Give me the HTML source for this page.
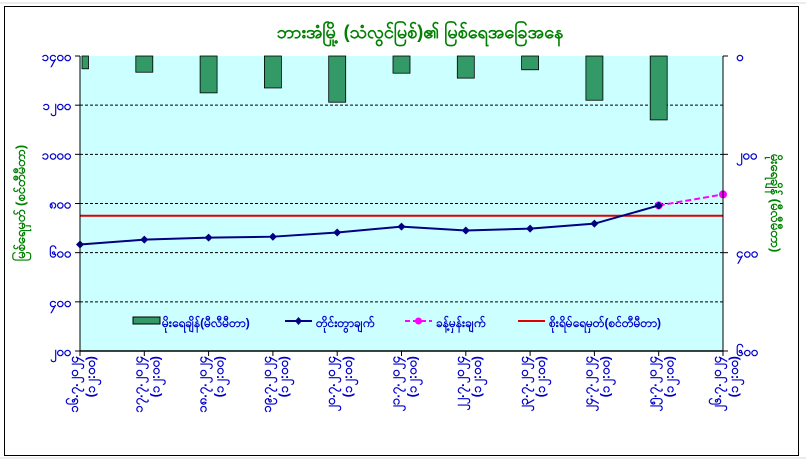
<!DOCTYPE html>
<html><head><meta charset="utf-8">
<style>
body{margin:0;width:806px;height:459px;background:#fff;overflow:hidden;font-family:"Liberation Sans",sans-serif}
</style></head>
<body>
<svg width="806" height="459" xmlns="http://www.w3.org/2000/svg">
<g stroke="#d9d9d9" stroke-width="1">
<line x1="0" y1="3" x2="806" y2="3"/><line x1="0" y1="458" x2="806" y2="458"/>
</g>
<rect x="4.5" y="6.5" width="794" height="449" fill="#fff" stroke="#000"/>
<text x="420" y="38" text-anchor="middle" font-size="18" font-weight="bold" fill="#008000">ဘားအံမြို့ (သံလွင်မြစ်)၏ မြစ်ရေအခြေအနေ</text>
<rect x="80" y="56" width="643" height="295" fill="#ccffff"/>
<g id="grid"></g>
<g id="bars"></g>
<g id="marks"></g>
<g id="axes"></g>
<text transform="translate(25,203) rotate(-90)" text-anchor="middle" font-size="13" font-weight="bold" fill="#008000">မြစ်ရေမှတ် (စင်တီမီတာ)</text>
<text transform="translate(771,203) rotate(90)" text-anchor="middle" font-size="13" font-weight="bold" fill="#008000">မိုးရေချိန် (မီလီမီတာ)</text>
<g font-size="12" font-weight="bold" fill="#0000cc">
<g><rect x="133" y="317" width="27" height="7" fill="#339966" stroke="#000"/><text x="162" y="327">မိုးရေချိန်(မီလီမီတာ)</text></g>
<g><line x1="285" y1="321" x2="312" y2="321" stroke="#000080" stroke-width="2"/><path d="M298.5 317 L302 321 L298.5 325 L295 321Z" fill="#000080"/><text x="316" y="327">တိုင်းတွာချက်</text></g>
<g><line x1="405" y1="321" x2="432" y2="321" stroke="#ff00ff" stroke-width="2" stroke-dasharray="5,3"/><circle cx="418.5" cy="321" r="3.5" fill="#ff00ff"/><text x="436" y="327">ခန့်မှန်းချက်</text></g>
<g><line x1="518" y1="321" x2="545" y2="321" stroke="#e00000" stroke-width="2"/><text x="549" y="327">စိုးရိမ်ရေမှတ်(စင်တီမီတာ)</text></g>
</g>
</svg>
<script>
const categories=["၁၆.၇.၂၀၂၄","၁၇.၇.၂၀၂၄","၁၈.၇.၂၀၂၄","၁၉.၇.၂၀၂၄","၂၀.၇.၂၀၂၄","၂၁.၇.၂၀၂၄","၂၂.၇.၂၀၂၄","၂၃.၇.၂၀၂၄","၂၄.၇.၂၀၂၄","၂၅.၇.၂၀၂၄","၂၆.၇.၂၀၂၄"];
const timeLabel="(၁၂:၀၀)";
const rainfall=[26,33,75,65,94,35,45,28,90,130,0];
const observed=[633,653,661,665,682,706,690,698,718,792,null];
const forecast=[null,null,null,null,null,null,null,null,null,792,837];
const dangerLevel=750;
const leftTicks=[1400,1200,1000,800,600,400,200];
const leftTickLabels=["၁၄၀၀","၁၂၀၀","၁၀၀၀","၈၀၀","၆၀၀","၄၀၀","၂၀၀"];
const rightTicks=[0,200,400,600];
const rightTickLabels=["၀","၂၀၀","၄၀၀","၆၀၀"];
const NS="http://www.w3.org/2000/svg";
const L=80,R=723,T=56,B=351;
const xS=i=>L+i*(R-L)/(categories.length-1);
const yL=v=>T+(1400-v)/(1400-200)*(B-T);
const yR=v=>T+v/600*(B-T);
function mk(tag,attrs,parent){const e=document.createElementNS(NS,tag);for(const k in attrs)e.setAttribute(k,attrs[k]);document.getElementById(parent).appendChild(e);return e;}
leftTicks.forEach((v,i)=>{
 if(i>0&&i<leftTicks.length-1){const g=mk('line',{x1:L,x2:R,y1:yL(v),y2:yL(v),stroke:'#000','stroke-dasharray':'3,2','stroke-width':1},'grid');
 
 }
 const t=mk('line',{x1:L-5,x2:L,y1:yL(v),y2:yL(v),stroke:'#000'},'axes');
 
 
 const tx=mk('text',{x:L-9,y:yL(v)+5,'text-anchor':'end','font-size':13,'font-weight':'bold',fill:'#0000cc'},'axes');
 tx.textContent=leftTickLabels[i];
 
 
});
rightTicks.forEach((v,i)=>{
 const t=mk('line',{x1:R,x2:R+5,y1:yR(v),y2:yR(v),stroke:'#000'},'axes');
 
 
 const tx=mk('text',{x:R+13,y:yR(v)+5,'font-size':13,'font-weight':'bold',fill:'#0000cc'},'axes');
 tx.textContent=rightTickLabels[i];
 
 
});
const bw=17;
rainfall.forEach((v,i)=>{
 if(!v)return;
 let x0=xS(i)-bw/2,x1=xS(i)+bw/2;x0=Math.max(x0,L+2);
 const r=mk('rect',{x:x0,y:T,width:x1-x0,height:yR(v)-T,fill:'#339966',stroke:'#000','stroke-width':0.8},'bars');
 
 
});
const dl=mk('line',{x1:L,x2:R,y1:yL(dangerLevel),y2:yL(dangerLevel),stroke:'#e00000','stroke-width':2},'marks');


let fp=[];forecast.forEach((v,i)=>{if(v!=null)fp.push(xS(i)+','+yL(v));});
const fl=mk('polyline',{points:fp.join(' '),fill:'none',stroke:'#ff00ff','stroke-width':2,'stroke-dasharray':'6,3'},'marks');


forecast.forEach((v,i)=>{if(v==null)return;const c=mk('circle',{cx:xS(i),cy:yL(v),r:4,fill:'#ff00ff'},'marks');
 
 });
let op=[];observed.forEach((v,i)=>{if(v!=null)op.push(xS(i)+','+yL(v));});
const ol=mk('polyline',{points:op.join(' '),fill:'none',stroke:'#000080','stroke-width':2},'marks');


observed.forEach((v,i)=>{if(v==null)return;const x=xS(i),y=yL(v);
 const p=mk('path',{d:`M${x} ${y-4}L${x+4} ${y}L${x} ${y+4}L${x-4} ${y}Z`,fill:'#000080'},'marks');
 
 });
mk('line',{x1:L,x2:L,y1:T,y2:B,stroke:'#000'},'axes');
mk('line',{x1:R,x2:R,y1:T,y2:B,stroke:'#000'},'axes');
mk('line',{x1:L,x2:R,y1:B,y2:B,stroke:'#000','stroke-width':1.5},'axes');
categories.forEach((c,i)=>{
 const x=xS(i);
 const t=mk('line',{x1:x,x2:x,y1:B,y2:B+5,stroke:'#000'},'axes');
 
 
 const tx=mk('text',{transform:`translate(${x-2},${B+5}) rotate(-90)`,'text-anchor':'end','font-size':13,'font-weight':'bold',fill:'#0000cc'},'axes');
 tx.textContent=c;
 
 
 const t2=mk('text',{transform:`translate(${x+15},${B+5}) rotate(-90)`,'text-anchor':'end','font-size':13,'font-weight':'bold',fill:'#0000cc'},'axes');
 t2.textContent=timeLabel;
 
 
});
</script>
</body></html>
